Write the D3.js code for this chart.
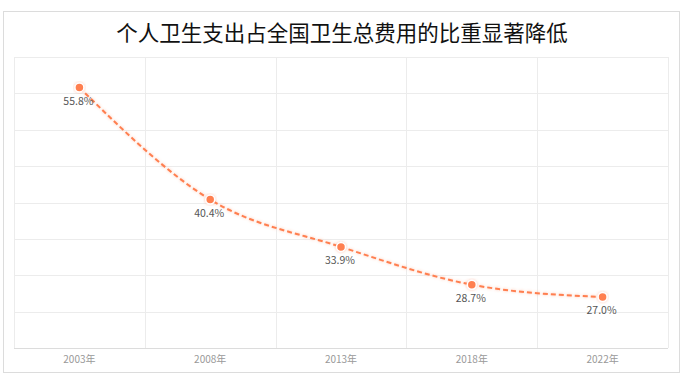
<!DOCTYPE html>
<html>
<head>
<meta charset="utf-8">
<script src="https://cdn.jsdelivr.net/npm/d3@7"></script>
<style>
  html, body { margin: 0; padding: 0; background: #fff; }
  body { width: 685px; height: 376px; overflow: hidden; }
  text { font-family: "Noto Sans CJK SC", "Noto Sans", sans-serif; }
</style>
</head>
<body>
<svg id="chart" width="685" height="376"></svg>
<script>
// data
const years = ['2003年', '2008年', '2013年', '2018年', '2022年'];
const shares = [55.8, 40.4, 33.9, 28.7, 27.0];
const yTicks = [20, 25, 30, 35, 40, 45, 50, 55, 60];
const titleText = '个人卫生支出占全国卫生总费用的比重显著降低';

const svg = d3.select('#chart');
const lineColor = '#ff7f50';

// outer card
svg.append('rect')
    .attr('x', 3.5).attr('y', 11.5)
    .attr('width', 676).attr('height', 361)
    .attr('fill', '#fff')
    .attr('stroke', '#dcdcdc');

svg.append('text')
    .attr('x', 342).attr('y', 41)
    .attr('text-anchor', 'middle')
    .attr('font-size', '21.5px').attr('font-weight', '400')
    .attr('fill', '#111')
    .text(titleText);

// plot box
const plot = { left: 14, right: 668, top: 57, bottom: 348 };

const x = d3.scaleBand().domain(years).range([plot.left, plot.right]);
const y = d3.scaleLinear().domain([20, 60]).range([plot.bottom, plot.top]);

const defs = svg.append('defs');
const glow = defs.append('filter').attr('id', 'glow')
    .attr('x', '-20%').attr('y', '-20%').attr('width', '140%').attr('height', '140%');
glow.append('feDropShadow')
    .attr('dx', 0).attr('dy', 0).attr('stdDeviation', 1.5)
    .attr('flood-color', lineColor).attr('flood-opacity', 0.45);

const grid = svg.append('g');
// horizontal grid
grid.selectAll('.h').data(yTicks).enter().append('line')
    .attr('x1', plot.left).attr('x2', plot.right)
    .attr('y1', d => Math.round(y(d)) + 0.5).attr('y2', d => Math.round(y(d)) + 0.5)
    .attr('stroke', d => d === 20 ? '#dcdcdc' : '#ececec');
// vertical grid at band edges
const edges = years.map(d => x(d)).concat([plot.right]);
grid.selectAll('.v').data(edges).enter().append('line')
    .attr('x1', d => Math.round(d) + 0.5).attr('x2', d => Math.round(d) + 0.5)
    .attr('y1', plot.top).attr('y2', plot.bottom)
    .attr('stroke', '#ececec');

// x axis labels
const xAxis = svg.append('g')
    .attr('transform', `translate(0,${plot.bottom})`)
    .call(d3.axisBottom(x).tickSize(0).tickPadding(8));
xAxis.select('.domain').remove();
xAxis.selectAll('text')
    .attr('font-size', '10px')
    .attr('fill', '#999')
    .style('font-family', '"Noto Sans CJK SC", sans-serif');

const pts = years.map((d, i) => ({ year: d, value: shares[i] }));
const cx = d => x(d.year) + x.bandwidth() / 2;

const line = d3.line()
    .x(cx).y(d => y(d.value))
    .curve(d3.curveMonotoneX);

svg.append('path')
    .datum(pts)
    .attr('d', line)
    .attr('fill', 'none')
    .attr('stroke', lineColor)
    .attr('stroke-width', 2)
    .attr('stroke-dasharray', '5,3')
    .attr('filter', 'url(#glow)');

svg.selectAll('.pt').data(pts).enter().append('circle')
    .attr('cx', cx).attr('cy', d => y(d.value))
    .attr('r', 4.5)
    .attr('fill', lineColor)
    .attr('stroke', '#fff').attr('stroke-width', 1.5)
    .attr('filter', 'url(#glow)');

svg.selectAll('.lbl').data(pts).enter().append('text')
    .attr('x', d => cx(d) - 1)
    .attr('y', d => y(d.value) + 17)
    .attr('text-anchor', 'middle')
    .attr('font-size', '10.5px')
    .attr('fill', '#555')
    .text(d => d.value.toFixed(1) + '%');
</script>
</body>
</html>
